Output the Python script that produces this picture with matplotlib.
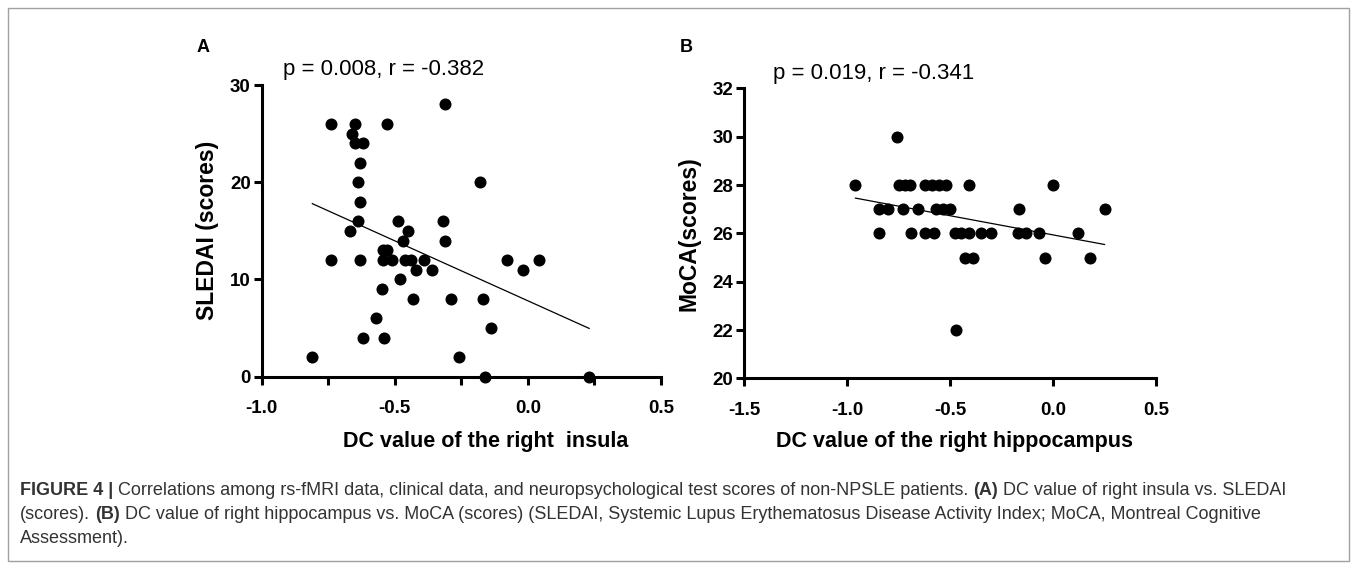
import numpy as np
import matplotlib
matplotlib.use("Agg")
import matplotlib.pyplot as plt
from matplotlib.patches import Rectangle
from matplotlib.ticker import MultipleLocator

plt.rcParams['font.family'] = ['Liberation Sans', 'DejaVu Sans']

# Panel A: DC value of the right insula vs SLEDAI
insula_dc = [-0.74, -0.65, -0.53, -0.66, -0.65, -0.62, -0.31, -0.63, -0.64, -0.63,
             -0.18, -0.64, -0.67, -0.49, -0.45, -0.47, -0.32, -0.31, -0.74, -0.63,
             -0.545, -0.53, -0.545, -0.51, -0.46, -0.44, -0.39, -0.42, -0.36, -0.48,
             -0.55, -0.43, -0.29, -0.17, -0.57, -0.14, -0.62, -0.54, -0.81, -0.26,
             -0.16, -0.08, -0.02, 0.04, 0.23]
sledai = [26, 26, 26, 25, 24, 24, 28, 22, 20, 18,
          20, 16, 15, 16, 15, 14, 16, 14, 12, 12,
          13, 13, 12, 12, 12, 12, 12, 11, 11, 10,
          9, 8, 8, 8, 6, 5, 4, 4, 2, 2,
          0, 12, 11, 12, 0]

# Panel B: DC value of the right hippocampus vs MoCA
hippo_dc = [-0.76,
            -0.96, -0.75, -0.72, -0.695, -0.62, -0.59, -0.555, -0.52, -0.41, 0.0,
            -0.845, -0.80, -0.73, -0.655, -0.57, -0.535, -0.50, -0.165, 0.25,
            -0.845, -0.69, -0.62, -0.58, -0.475, -0.445, -0.41, -0.35, -0.30,
            -0.17, -0.13, -0.07, 0.12,
            -0.43, -0.39, -0.04, 0.18,
            -0.47]
moca = [30,
        28, 28, 28, 28, 28, 28, 28, 28, 28, 28,
        27, 27, 27, 27, 27, 27, 27, 27, 27,
        26, 26, 26, 26, 26, 26, 26, 26, 26,
        26, 26, 26, 26,
        25, 25, 25, 25,
        22]

stats_a = "p = 0.008, r = -0.382"
stats_b = "p = 0.019, r = -0.341"

caption_lines = [
    [("FIGURE 4 |", "bold"),
     ("Correlations among rs-fMRI data, clinical data, and neuropsychological test scores of non-NPSLE patients.", "normal"),
     ("(A)", "bold"),
     ("DC value of right insula vs. SLEDAI", "normal")],
    [("(scores).", "normal"),
     ("(B)", "bold"),
     ("DC value of right hippocampus vs. MoCA (scores) (SLEDAI, Systemic Lupus Erythematosus Disease Activity Index; MoCA, Montreal Cognitive", "normal")],
    [("Assessment).", "normal")],
]


# Draws one scatter panel in the GraphPad look: thick spines, bold ticks, fit line.
def scatter_panel(ax, x, y, xlim, ylim, xstep, ystep, xminor=None):
    x = np.array(x)
    y = np.array(y)
    ax.scatter(x, y, s=75, color='black', zorder=3, clip_on=False, linewidths=0)

    # Least squares line across the range of the data
    slope, icpt = np.polyfit(x, y, 1)
    xs = np.array([x.min(), x.max()])
    ax.plot(xs, slope * xs + icpt, color='black', lw=0.9, zorder=2)

    ax.set_xlim(*xlim)
    ax.set_ylim(*ylim)
    ax.xaxis.set_major_locator(MultipleLocator(xstep))
    ax.yaxis.set_major_locator(MultipleLocator(ystep))
    if xminor:
        ax.xaxis.set_minor_locator(MultipleLocator(xminor))
    ax.xaxis.set_major_formatter(matplotlib.ticker.FormatStrFormatter('%.1f'))

    for side in ['top', 'right']:
        ax.spines[side].set_visible(False)
    for side in ['left', 'bottom']:
        ax.spines[side].set_linewidth(2.2)
    ax.tick_params(which='both', direction='out', length=6, width=2.2)
    ax.tick_params(axis='x', pad=11)
    ax.tick_params(axis='y', pad=2)
    for lab in ax.get_xticklabels() + ax.get_yticklabels():
        lab.set_fontweight('bold')
        lab.set_fontsize(13.5)


fig = plt.figure(figsize=(13.57, 5.69), dpi=100)

# Panel A
ax_a = fig.add_axes([0.1929, 0.338, 0.2942, 0.5126])
scatter_panel(ax_a, insula_dc, sledai, (-1.0, 0.5), (0, 30), 0.5, 10, xminor=0.25)
ax_a.set_xlabel("DC value of the right  insula", fontsize=15.5, fontweight='bold')
ax_a.set_ylabel("SLEDAI (scores)", fontsize=16.5, fontweight='bold')
ax_a.xaxis.set_label_coords(0.56, -0.185)
ax_a.yaxis.set_label_coords(-0.106, 0.5)

# Panel B
ax_b = fig.add_axes([0.5485, 0.3351, 0.3034, 0.5094])
scatter_panel(ax_b, hippo_dc, moca, (-1.5, 0.5), (20, 32), 0.5, 2)
ax_b.set_xlabel("DC value of the right hippocampus", fontsize=15.5, fontweight='bold')
ax_b.set_ylabel("MoCA(scores)", fontsize=16.5, fontweight='bold')
ax_b.xaxis.set_label_coords(0.51, -0.18)
ax_b.yaxis.set_label_coords(-0.106, 0.5)

# Panel letters and statistics
fig.text(203 / 1357, 1 - 47 / 569, "A", fontsize=13, fontweight='bold', ha='center', va='center')
fig.text(686 / 1357, 1 - 47 / 569, "B", fontsize=13, fontweight='bold', ha='center', va='center')
fig.text(384 / 1357, 1 - 69 / 569, stats_a, fontsize=16, ha='center', va='center')
fig.text(874 / 1357, 1 - 73 / 569, stats_b, fontsize=16, ha='center', va='center')

# Thin frame around the figure
fig.patches.append(Rectangle((8 / 1357, 8 / 569), 1 - 16 / 1357, 1 - 16 / 569,
                             transform=fig.transFigure, fill=False,
                             edgecolor='#a0a0a0', lw=1.0))

# Caption, built from bold and normal runs placed one after another
renderer = fig.canvas.get_renderer()
cap_size = 13
cap_color = '#333333'


def text_width(s, weight):
    t = fig.text(0, 0, s, fontsize=cap_size, fontweight=weight)
    w = t.get_window_extent(renderer).width
    t.remove()
    return w


space_w = text_width("a a", 'normal') - text_width("aa", 'normal')
baselines = [495, 519, 543]
for line, base in zip(caption_lines, baselines):
    xpos = 20.0
    for text, weight in line:
        t = fig.text(xpos / 1357, 1 - base / 569, text, fontsize=cap_size,
                     fontweight=weight, color=cap_color, va='baseline', ha='left')
        xpos += t.get_window_extent(renderer).width * 1357 / fig.bbox.width + space_w

fig.savefig("out.png", dpi=100)
